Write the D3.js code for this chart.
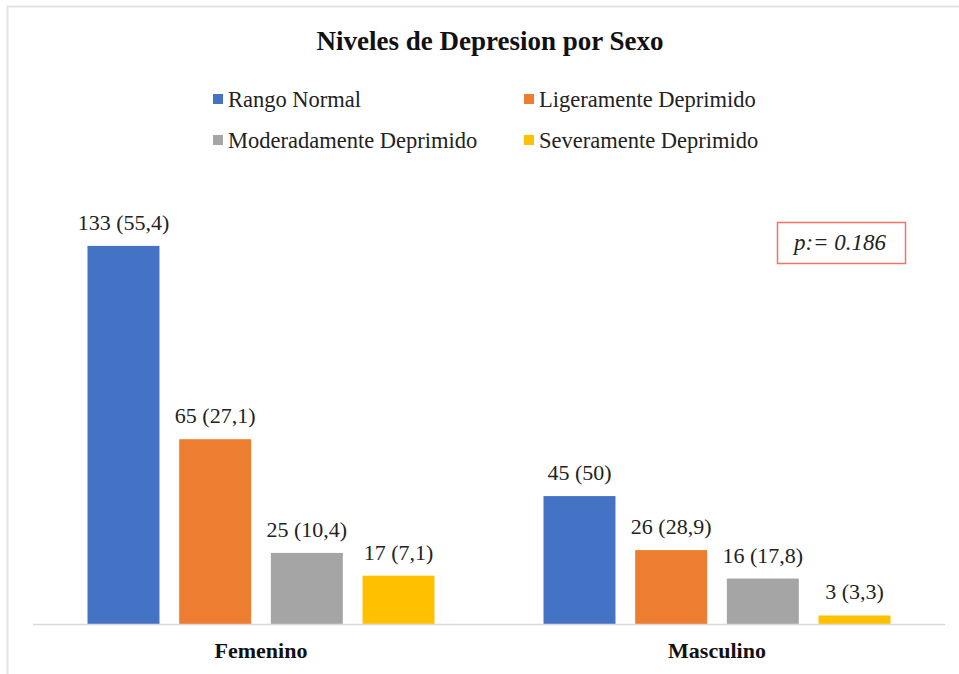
<!DOCTYPE html>
<html>
<head>
<meta charset="utf-8">
<script src="https://cdn.jsdelivr.net/npm/d3@7"></script>
<style>
  body { margin: 0; background: #fff; }
  svg { display: block; font-family: "Liberation Serif", "Times New Roman", serif; }
</style>
</head>
<body>
<svg id="chart"></svg>
<script>
// Niveles de Depresion por Sexo — grouped bars

const categories = ['Femenino', 'Masculino'];
const series = ['Rango Normal', 'Ligeramente Deprimido', 'Moderadamente Deprimido', 'Severamente Deprimido'];
const colors = ['#4472c4', '#ed7d31', '#a5a5a5', '#ffc000'];

// counts per category, one array per series
const femenino = [133, 65, 25, 17];
const masculino = [45, 26, 16, 3];
const femeninoPct = ['55,4', '27,1', '10,4', '7,1'];
const masculinoPct = ['50', '28,9', '17,8', '3,3'];

const pValue = 'p:= 0.186';

const WIDTH = 959;
const HEIGHT = 674;

const svg = d3.select('#chart')
    .attr('width', WIDTH)
    .attr('height', HEIGHT);

// chart frame (only top and left edges are visible)
svg.append('path')
    .attr('d', `M7.5,${HEIGHT} L7.5,6.5 L${WIDTH},6.5`)
    .attr('fill', 'none')
    .attr('stroke', '#e3e3e3')
    .attr('stroke-width', 2);

// Title
svg.append('text')
    .attr('x', 490)
    .attr('y', 50)
    .attr('text-anchor', 'middle')
    .attr('font-size', 27)
    .attr('font-weight', 'bold')
    .attr('fill', '#111')
    .text('Niveles de Depresion por Sexo');

// Legend 2x2
const legend = svg.append('g').attr('class', 'legend');
series.forEach((s, i) => {
    const col = i % 2;
    const row = Math.floor(i / 2);
    const lx = 213 + col * 311;
    const ly = 94 + row * 41;
    legend.append('rect')
        .attr('x', lx)
        .attr('y', ly)
        .attr('width', 10)
        .attr('height', 10)
        .attr('fill', colors[i]);
    legend.append('text')
        .attr('x', lx + 15)
        .attr('y', ly + 13)
        .attr('font-size', 22.5)
        .attr('fill', '#222')
        .text(s);
});

// Scales
const rows = [
    { cat: categories[0], values: femenino, pct: femeninoPct },
    { cat: categories[1], values: masculino, pct: masculinoPct }
];

const GROUP_W = 347;

const x0 = d3.scaleBand()
    .domain(categories)
    .range([33, 945]);

const x1 = d3.scaleBand()
    .domain(series)
    .range([0, GROUP_W])
    .paddingInner(0.215);

const y = d3.scaleLinear()
    .domain([0, 140])
    .range([624, 226]);

const groups = svg.append('g')
    .selectAll('g')
    .data(rows)
    .join('g')
    .attr('transform', d => `translate(${x0(d.cat) + (x0.bandwidth() - GROUP_W) / 2},0)`);

groups.selectAll('rect')
    .data(d => d.values.map((v, i) => ({ s: series[i], v, i })))
    .join('rect')
    .attr('x', d => x1(d.s))
    .attr('y', d => y(d.v))
    .attr('width', x1.bandwidth())
    .attr('height', d => y(0) - y(d.v))
    .attr('fill', d => colors[d.i]);

groups.selectAll('text.lbl')
    .data(d => d.values.map((v, i) => ({ s: series[i], v, p: d.pct[i] })))
    .join('text')
    .attr('class', 'lbl')
    .attr('x', d => x1(d.s) + x1.bandwidth() / 2)
    .attr('y', d => y(d.v) - 16)
    .attr('text-anchor', 'middle')
    .attr('font-size', 22)
    .attr('fill', '#222')
    .text(d => `${d.v} (${d.p})`);

// Axis line
svg.append('line')
    .attr('x1', x0.range()[0])
    .attr('x2', x0.range()[1])
    .attr('y1', y(0) + 0.5)
    .attr('y2', y(0) + 0.5)
    .attr('stroke', '#d9d9d9')
    .attr('stroke-width', 1.5);

// Category labels
svg.append('g')
    .selectAll('text')
    .data(categories)
    .join('text')
    .attr('x', d => x0(d) + x0.bandwidth() / 2)
    .attr('y', 658)
    .attr('text-anchor', 'middle')
    .attr('font-size', 22)
    .attr('font-weight', 'bold')
    .attr('fill', '#111')
    .text(d => d);

// p-value box
const pBox = svg.append('g');
pBox.append('rect')
    .attr('x', 777.5)
    .attr('y', 222.5)
    .attr('width', 128)
    .attr('height', 41)
    .attr('fill', '#fff')
    .attr('stroke', '#f07462')
    .attr('stroke-width', 1.5);
pBox.append('text')
    .attr('x', 840)
    .attr('y', 250)
    .attr('text-anchor', 'middle')
    .attr('font-size', 23)
    .attr('font-style', 'italic')
    .attr('fill', '#222')
    .text(pValue);
</script>
</body>
</html>
